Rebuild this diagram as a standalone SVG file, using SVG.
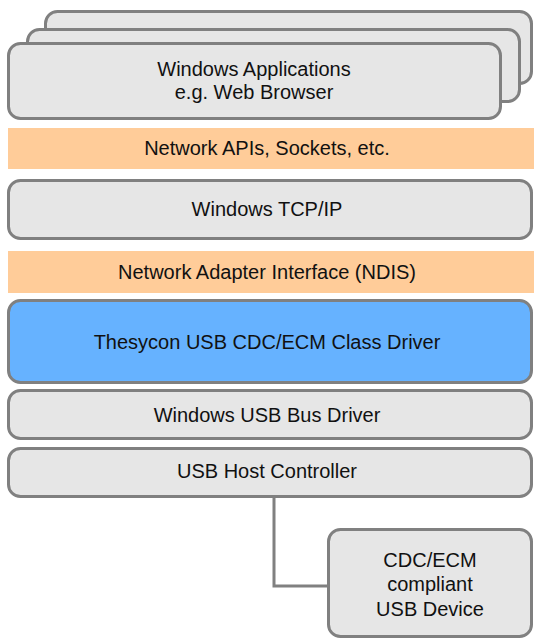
<svg xmlns="http://www.w3.org/2000/svg" width="534" height="639" viewBox="0 0 534 639">
<style>
.box{fill:#e6e6e6;stroke:#808080;stroke-width:3}
.blue{fill:#66b2ff;stroke:#808080;stroke-width:3}
.band{fill:#ffcc99;stroke:none}
.t{font-family:"Liberation Sans",Arial,sans-serif;font-size:20px;fill:#111;text-anchor:middle}
.conn{fill:none;stroke:#808080;stroke-width:3}
</style>
<rect width="534" height="639" fill="#fff"/>
<g id="apps">
<rect class="box" x="45.5" y="11.5" width="486" height="72" rx="12"/>
<rect class="box" x="27.5" y="29.5" width="492" height="72" rx="12"/>
<rect class="box" x="8.5" y="43.5" width="492" height="75" rx="12"/>
<text class="t" x="254" y="76">Windows Applications</text>
<text class="t" x="254" y="99">e.g. Web Browser</text>
</g>
<g id="netapi">
<rect class="band" x="8" y="128" width="526" height="41"/>
<text class="t" x="267" y="155">Network APIs, Sockets, etc.</text>
</g>
<g id="tcpip">
<rect class="box" x="8.5" y="180.5" width="523" height="58" rx="12"/>
<text class="t" x="267" y="216">Windows TCP/IP</text>
</g>
<g id="ndis">
<rect class="band" x="8" y="251" width="526" height="42"/>
<text class="t" x="267" y="279">Network Adapter Interface (NDIS)</text>
</g>
<g id="cdcdriver">
<rect class="blue" x="8.5" y="300.5" width="523" height="82" rx="12"/>
<text class="t" x="267" y="349">Thesycon USB CDC/ECM Class Driver</text>
</g>
<g id="busdriver">
<rect class="box" x="8.5" y="390.5" width="523" height="48" rx="12"/>
<text class="t" x="267" y="422">Windows USB Bus Driver</text>
</g>
<g id="hostctrl">
<rect class="box" x="8.5" y="448.5" width="523" height="48" rx="12"/>
<text class="t" x="267" y="478">USB Host Controller</text>
</g>
<g id="connectors">
<path class="conn" d="M274 497.5 V586 H328"/>
</g>
<g id="device">
<rect class="box" x="328.5" y="529.5" width="203" height="107" rx="12"/>
<text class="t" x="430" y="567">CDC/ECM</text>
<text class="t" x="430" y="591">compliant</text>
<text class="t" x="430" y="616">USB Device</text>
</g>
</svg>
